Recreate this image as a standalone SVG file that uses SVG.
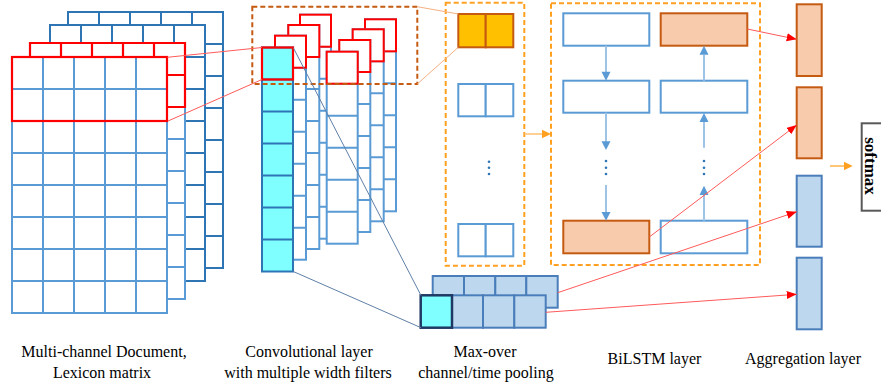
<svg xmlns="http://www.w3.org/2000/svg" xmlns:xlink="http://www.w3.org/1999/xlink" width="881" height="385" viewBox="0 0 881 385">
<style>
.lbl{font-family:"Liberation Serif","Times New Roman",serif;font-size:16px;fill:#000;text-anchor:middle}
.dk{stroke:#2e75b6;stroke-width:2;fill:#fff}
.lt{stroke:#5b9bd5;stroke-width:2;fill:#fff}
.red{stroke:#ff0000;stroke-width:2.2;fill:none}
.cyan{fill:#7fffff;stroke:#2e75b6;stroke-width:2}
.pv{fill:#bdd7ee;stroke:#4a7ebb;stroke-width:2}
.org{fill:#f8cbad;stroke:#c55a11;stroke-width:2}
.gold{fill:#ffc000;stroke:#c55a11;stroke-width:2}
.box{fill:#fff;stroke:#5b9bd5;stroke-width:2}
.dash{fill:none;stroke:#ffa020;stroke-width:2;stroke-dasharray:5 3}
.dashb{fill:none;stroke:#c55a11;stroke-width:2;stroke-dasharray:5 3}
.rl{stroke:#ff5a5a;stroke-width:1;fill:none}
.bl{stroke:#5f7fa6;stroke-width:1;fill:none}
.ol{stroke:#f4b183;stroke-width:1;fill:none}
.ba{stroke:#9dc3e6;stroke-width:2;fill:none}
.bh{fill:#5b9bd5}
.dot{fill:#2e75b6}
</style>
<defs>
<g id="grid"><rect x="0" y="0" width="155" height="256"/><path d="M31 0v256M62 0v256M93 0v256M124 0v256M0 32h155M0 64h155M0 96h155M0 128h155M0 160h155M0 192h155M0 224h155"/></g>
<g id="colA"><rect x="0" y="0" width="31" height="224"/><path d="M0 32h31M0 64h31M0 96h31M0 128h31M0 160h31M0 192h31"/><rect x="0" y="0" width="31" height="32" style="stroke:#ff0000;fill:#fff"/></g>
<g id="colB"><rect x="0" y="0" width="31" height="192"/><path d="M0 32h31M0 64h31M0 96h31M0 128h31M0 160h31"/><rect x="0" y="0" width="31" height="32" style="stroke:#ff0000;fill:#fff"/></g>
<marker id="ra" markerUnits="userSpaceOnUse" markerWidth="11" markerHeight="9" refX="10" refY="4" orient="auto"><path d="M0 0L10 4L0 8z" fill="#ff0000"/></marker>
</defs>

<g id="input-matrix">
<use xlink:href="#grid" href="#grid" x="68" y="12" class="dk"/>
<use xlink:href="#grid" href="#grid" x="50" y="25" class="dk"/>
<use xlink:href="#grid" href="#grid" x="30" y="43" class="lt"/>
<path class="red" d="M30 43h155v64h-155zM61 43v32M92 43v32M123 43v32M154 43v32M30 75h155"/>
<use xlink:href="#grid" href="#grid" x="12" y="57" class="lt"/>
<rect class="red" x="12" y="57" width="155" height="64"/>
</g>

<g id="conv-layer">
<use xlink:href="#colA" href="#colA" x="300" y="14.7" class="lt"/>
<use xlink:href="#colA" href="#colA" x="288.3" y="25" class="lt"/>
<use xlink:href="#colA" href="#colA" x="275" y="35.7" class="lt"/>
<g class="cyan"><rect x="262" y="47.5" width="31" height="224"/><path d="M262 79.5h31M262 111.5h31M262 143.5h31M262 175.5h31M262 207.5h31M262 239.5h31"/></g>
<rect class="red" x="262" y="47.5" width="31" height="32"/>
<use xlink:href="#colB" href="#colB" x="365" y="19.3" class="lt"/>
<use xlink:href="#colB" href="#colB" x="352.7" y="29.3" class="lt"/>
<use xlink:href="#colB" href="#colB" x="339.3" y="40" class="lt"/>
<use xlink:href="#colB" href="#colB" x="326.7" y="51.7" class="lt"/>
<rect class="dashb" x="252.3" y="6.7" width="165" height="77.3"/>
</g>

<g id="pooling">
<rect class="dash" x="445.7" y="2.7" width="78.6" height="263"/>
<rect class="gold" x="458.3" y="14" width="27.4" height="33.3"/>
<rect class="gold" x="485.7" y="14" width="27.6" height="33.3"/>
<rect class="box" x="458.3" y="84" width="27.4" height="32.3"/>
<rect class="box" x="485.7" y="84" width="27.6" height="32.3"/>
<circle class="dot" cx="489" cy="161.7" r="1.3"/><circle class="dot" cx="489" cy="167.8" r="1.3"/><circle class="dot" cx="489" cy="174" r="1.3"/>
<rect class="box" x="458.3" y="224" width="27.4" height="32.3"/>
<rect class="box" x="485.7" y="224" width="27.6" height="32.3"/>
</g>

<g id="pooled-vectors">
<rect class="pv" x="432.7" y="276" width="31.3" height="31.7"/>
<rect class="pv" x="464" y="276" width="31.3" height="31.7"/>
<rect class="pv" x="495.3" y="276" width="31" height="31.7"/>
<rect class="pv" x="526.3" y="276" width="31.4" height="31.7"/>
<rect class="pv" x="452" y="295.3" width="31" height="32.4"/>
<rect class="pv" x="483" y="295.3" width="31.3" height="32.4"/>
<rect class="pv" x="514.3" y="295.3" width="31.4" height="32.4"/>
<rect x="420.7" y="295.3" width="31.3" height="32.4" fill="#7fffff" stroke="#1f3864" stroke-width="2.5"/>
</g>

<g id="bilstm">
<rect class="dash" x="551" y="3.3" width="209" height="261.7"/>
<rect class="box" x="563.3" y="13.3" width="86" height="32.4"/>
<rect class="box" x="563.3" y="80.7" width="86" height="32"/>
<rect class="org" x="563.3" y="220.7" width="86" height="32.6"/>
<rect class="org" x="660.7" y="13.3" width="86.6" height="32.4"/>
<rect class="box" x="660.7" y="80.7" width="86.6" height="32"/>
<rect class="box" x="660.7" y="220.7" width="86.6" height="32.6"/>
<circle class="dot" cx="606" cy="161" r="1.3"/><circle class="dot" cx="606" cy="167.7" r="1.3"/><circle class="dot" cx="606" cy="174" r="1.3"/>
<circle class="dot" cx="704" cy="161" r="1.3"/><circle class="dot" cx="704" cy="167.7" r="1.3"/><circle class="dot" cx="704" cy="174" r="1.3"/>
</g>

<g id="aggregation">
<rect class="org" x="796.7" y="4.3" width="25" height="71.7"/>
<rect class="org" x="796.7" y="87.3" width="25" height="71"/>
<rect class="pv" x="796.7" y="175.7" width="25" height="71"/>
<rect class="pv" x="796.7" y="257.7" width="25" height="71.6"/>
</g>

<g id="softmax">
<rect x="861.7" y="123.3" width="30" height="87.4" fill="#fff" stroke="#595959" stroke-width="2"/>
<text transform="translate(865,166) rotate(90)" x="0" y="0" text-anchor="middle" font-family="Liberation Serif,Times New Roman,serif" font-size="17" font-weight="bold" fill="#000">softmax</text>
</g>

<g id="connectors">
<path class="rl" d="M167.3 57.3L262 47.5M168 121L262 79.5"/>
<path class="bl" d="M293.3 47.7L421 295.5M293.3 271.5L421 327.7"/>
<path class="ol" d="M417.3 6.7L458.3 14M417.3 84L458.3 47.3"/>
<path d="M524.3 134H543" stroke="#ffc070" stroke-width="1.5"/>
<path d="M542 129.7L551 134L542 138.3z" fill="#ffa020"/>
<path class="ba" d="M606 45.7V72M606 112.7V142M606 185V212"/>
<path class="bh" d="M601.5 71.7H610.5L606 80.7zM601.5 141.2H610.5L606 150zM601.5 211.9H610.5L606 220.7z"/>
<path class="ba" d="M704 220.7V195M704 147.7V122M704 80.7V55"/>
<path class="bh" d="M699.5 195H708.5L704 185.7zM699.5 122H708.5L704 113zM699.5 54.7H708.5L704 45.7z"/>
<path class="rl" marker-end="url(#ra)" d="M747.3 29L796.7 39.3"/>
<path class="rl" marker-end="url(#ra)" d="M649.3 237L796.7 125"/>
<path class="rl" marker-end="url(#ra)" d="M557.7 292.7L796.7 211.7"/>
<path class="rl" marker-end="url(#ra)" d="M545.7 312.3L796.7 294.3"/>
<path d="M830 166H845" stroke="#ffa020" stroke-width="1.2"/>
<path d="M844 161.7L852.7 166L844 170.3z" fill="#ffa020"/>
</g>

<g id="labels">
<text class="lbl" x="104" y="357">Multi-channel Document,</text>
<text class="lbl" x="102" y="378">Lexicon matrix</text>
<text class="lbl" x="309" y="357">Convolutional layer</text>
<text class="lbl" x="308" y="378">with multiple width filters</text>
<text class="lbl" x="485" y="357">Max-over</text>
<text class="lbl" x="486" y="378">channel/time pooling</text>
<text class="lbl" x="654.5" y="364">BiLSTM layer</text>
<text class="lbl" x="803" y="364">Aggregation layer</text>
</g>
</svg>
